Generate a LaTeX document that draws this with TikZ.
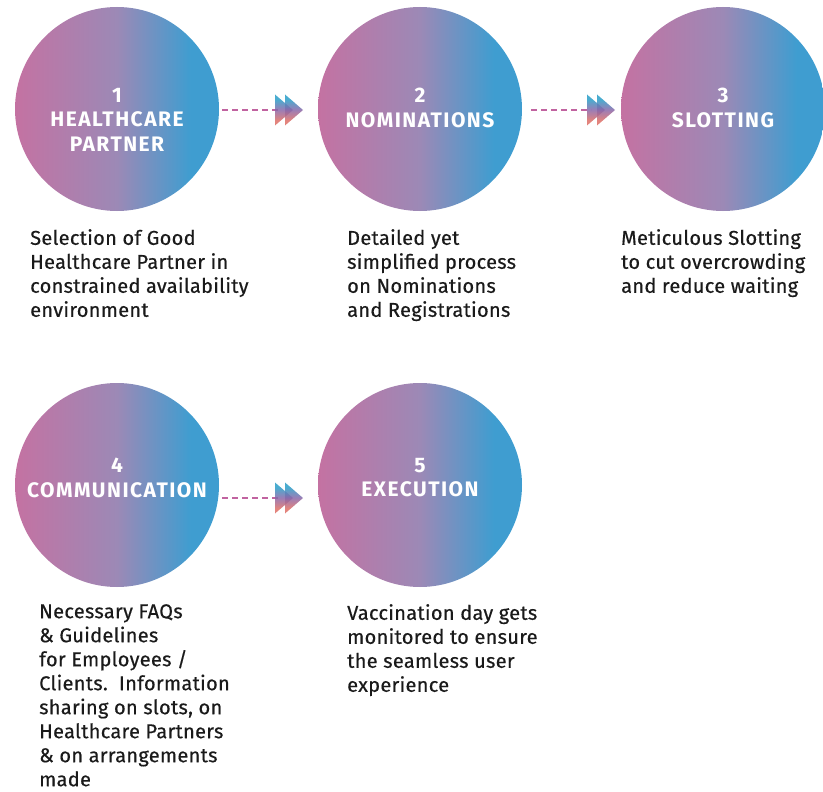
\documentclass[tikz,border=0pt]{standalone}
\usepackage{fontspec}
\setmainfont{Fira Sans}
\newfontfamily\descfont{Fira Sans}[FakeBold=0.5, LetterSpace=1.5]
\newfontfamily\titlefont{Fira Sans Bold}[LetterSpace=7]
\definecolor{pk}{HTML}{C472A2}
\definecolor{mv}{HTML}{9C89B6}
\definecolor{bl}{HTML}{3F9DD0}
\definecolor{tl}{HTML}{2A9DC8}
\definecolor{pu}{HTML}{8B66A8}
\definecolor{sa}{HTML}{DE6E66}
\definecolor{dsh}{HTML}{C163A0}
\definecolor{txt}{HTML}{1A1A1A}
\pgfdeclarehorizontalshading{circgrad}{100bp}{color(0bp)=(pk); color(25bp)=(pk); color(50bp)=(mv); color(68bp)=(bl); color(100bp)=(bl)}
\pgfdeclareverticalshading{trigrad}{100bp}{color(0bp)=(sa); color(33bp)=(sa); color(50bp)=(pu); color(67bp)=(tl); color(100bp)=(tl)}
\tikzset{
  circ/.style={circle, minimum size=204pt, inner sep=0pt, shading=circgrad},
  title/.style={anchor=north, align=center, text=white, inner sep=0pt, font=\titlefont\fontsize{21}{24.5}\selectfont},
  desc/.style={anchor=north west, align=left, text=txt, inner sep=0pt, font=\descfont\fontsize{20}{24}\selectfont},
  dashline/.style={draw=dsh, line width=2pt, dash pattern=on 6pt off 4pt},
  dblhead/.pic={
    \shade[shading=trigrad, fill opacity=.85] (0,-15.5) -- (0,15.5) -- (18,0) -- cycle;
    \shade[shading=trigrad, fill opacity=.85] (10,-15.5) -- (10,15.5) -- (28,0) -- cycle;
  }
}
\begin{document}
\begin{tikzpicture}[x=1pt, y=-1pt]
\useasboundingbox (0,0) rectangle (823,792);
% circles
\node[circ] (c1) at (117,109) {};
\node[circ] (c2) at (420,109) {};
\node[circ] (c3) at (723,109) {};
\node[circ] (c4) at (117,485) {};
\node[circ] (c5) at (420,485) {};
% titles
\node[title] (t1) at (117,88) {1\\HEALTHCARE\\PARTNER};
\node[title] (t2) at (420,88) {2\\NOMINATIONS};
\node[title] (t3) at (723,88) {3\\SLOTTING};
\node[title] (t4) at (117,458) {4\\COMMUNICATION};
\node[title] (t5) at (420,458) {5\\EXECUTION};
% connectors
\coordinate (s1) at (222,110);
\coordinate (h1) at (275,110);
\coordinate (e1) at (279,110);
\draw[dashline] (s1) -- (e1);
\pic at (h1) {dblhead};
\coordinate (s2) at (531,110);
\coordinate (h2) at (587,110);
\coordinate (e2) at (591,110);
\draw[dashline] (s2) -- (e2);
\pic at (h2) {dblhead};
\coordinate (s3) at (222,498);
\coordinate (h3) at (275,498);
\coordinate (e3) at (279,498);
\draw[dashline] (s3) -- (e3);
\pic at (h3) {dblhead};
% descriptions
\node[desc] (d1) at (30,229) {Selection of Good\\Healthcare Partner in\\constrained availability\\environment};
\node[desc] (d2) at (347,229) {Detailed yet\\simplified process\\on Nominations\\and Registrations};
\node[desc] (d3) at (621,229) {Meticulous Slotting\\to cut overcrowding\\and reduce waiting};
\node[desc] (d4) at (39,604) {Necessary FAQs\\\& Guidelines\\for Employees /\\Clients.\ \ Information\\sharing on slots, on\\Healthcare Partners\\\& on arrangements\\made};
\node[desc] (d5) at (347,604) {Vaccination day gets\\monitored to ensure\\the seamless user\\experience};
\end{tikzpicture}
\end{document}
